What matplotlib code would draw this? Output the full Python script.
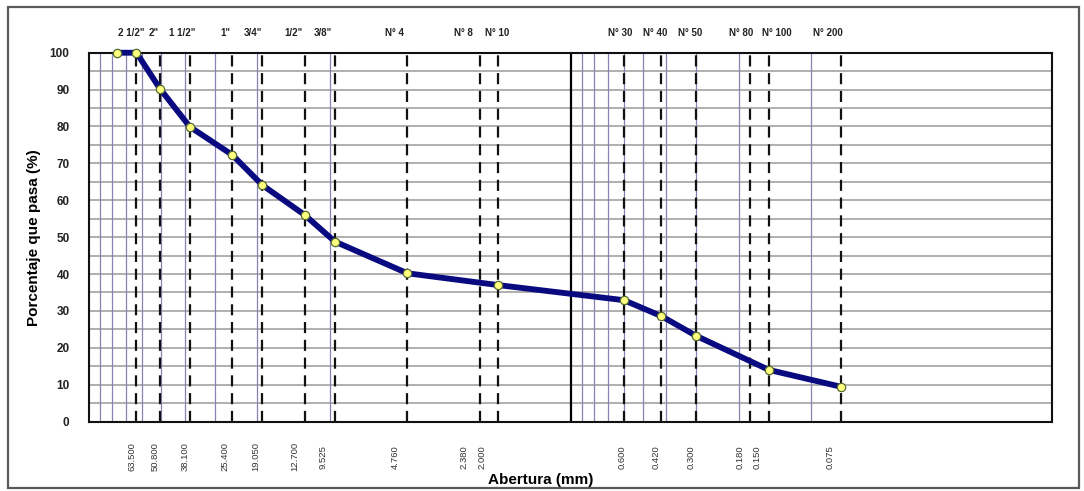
#!/usr/bin/env python3
"""Curva granulometrica: porcentaje que pasa vs abertura de tamiz (eje log invertido)."""
import matplotlib

matplotlib.use("Agg")
import matplotlib.pyplot as plt
from matplotlib import patches
from matplotlib.transforms import blended_transform_factory

plt.rcParams["font.family"] = ["Liberation Sans", "DejaVu Sans"]

# tamices (mm) y sus nombres
sieve_mm = [63.5, 50.8, 38.1, 25.4, 19.05, 12.7, 9.525, 4.76, 2.38, 2.0,
            0.6, 0.42, 0.3, 0.18, 0.15, 0.075]
sieve_names = ['2 1/2"', '2"', '1 1/2"', '1"', '3/4"', '1/2"', '3/8"', "N° 4",
               "N° 8", "N° 10", "N° 30", "N° 40", "N° 50", "N° 80", "N° 100", "N° 200"]
sieve_text = ["63.500", "50.800", "38.100", "25.400", "19.050", "12.700", "9.525",
              "4.760", "2.380", "2.000", "0.600", "0.420", "0.300", "0.180",
              "0.150", "0.075"]

# curva granulometrica
grad_mm = [76.2, 63.5, 50.8, 38.1, 25.4, 19.05, 12.7, 9.525, 4.76, 2.0,
           0.6, 0.42, 0.3, 0.15, 0.075]
grad_pass = [100, 100, 90.3, 79.9, 72.3, 64.1, 56.0, 48.8, 40.2, 37.0,
             32.9, 28.6, 23.2, 14.0, 9.4]

# lineas de la rejilla logaritmica
minor_mm = [90, 80, 70, 60, 50, 40, 30, 20, 10,
            0.9, 0.8, 0.7, 0.6, 0.5, 0.4, 0.3, 0.2, 0.1]
y_ticks = list(range(0, 101, 10))
y_grid = list(range(5, 100, 5))

# desplazamientos de etiquetas (pixeles)
top_dx = [-5, -6, -8, -7, -9, -11, -12, -13, -16, -1, -4, -6, -6, -9, 8, -13]
bot_dx = [-4, -5, -5, -7, -7, -10, -12, -12, -16, -16, -2, -5, -5, -10, -12, -11]


def main():
    fig = plt.figure(figsize=(10.84, 4.91), dpi=100)
    fig.patches.append(patches.Rectangle((0.007, 0.006), 0.988, 0.979, transform=fig.transFigure,
                                         fill=False, edgecolor="#5a5a5a", linewidth=1.6))
    ax = fig.add_axes([0.0821, 0.1415, 0.8884, 0.7511])
    ax.set_xscale("log")
    ax.set_xlim(100, 0.01)
    ax.set_ylim(0, 100)

    for y in y_grid:
        ax.axhline(y, color="#9a9a9a", linewidth=1.1, zorder=1)
    for x in minor_mm:
        ax.axvline(x, color="#8484b4", linewidth=0.9, zorder=1)
    ax.axvline(1.0, color="black", linewidth=1.6, zorder=2)
    for x in sieve_mm:
        ax.axvline(x, color="#111111", linewidth=1.6, linestyle=(0, (5, 3)), zorder=2)

    ax.plot(grad_mm, grad_pass, color="#0a0a80", linewidth=4.2, zorder=4,
            solid_capstyle="round", clip_on=False)
    ax.plot(grad_mm, grad_pass, linestyle="none", marker="o", markersize=6,
            markerfacecolor="#ffff80", markeredgecolor="#556b2f", markeredgewidth=0.9,
            zorder=5, clip_on=False)

    trans = blended_transform_factory(ax.transData, ax.transAxes)
    for x, name, dx in zip(sieve_mm, sieve_names, top_dx):
        ax.annotate(name, xy=(x, 1.053), xycoords=trans, xytext=(dx, 0), textcoords="offset pixels",
                    ha="center", va="center", fontsize=7, fontweight="bold", color="#222222")
    for x, txt, dx in zip(sieve_mm, sieve_text, bot_dx):
        ax.annotate(txt, xy=(x, -0.096), xycoords=trans, xytext=(dx, 0), textcoords="offset pixels",
                    ha="center", va="center", rotation=90, fontsize=6.8, color="#333333")

    ax.set_xticks([])
    ax.set_xticks([], minor=True)
    ax.set_yticks(y_ticks)
    ax.set_yticklabels([str(v) for v in y_ticks], fontsize=8.5, fontweight="bold", color="#222222")
    ax.tick_params(axis="y", length=0, pad=14)
    for side in ("left", "bottom", "right", "top"):
        ax.spines[side].set_color("#111111")
        ax.spines[side].set_linewidth(1.5)

    ax.set_ylabel("Porcentaje que pasa (%)", fontsize=11, fontweight="bold", labelpad=6)
    fig.text(0.499, 0.022, "Abertura (mm)", ha="center", va="center", fontsize=11, fontweight="bold")

    fig.savefig("out.png", dpi=100)
    plt.close(fig)


if __name__ == "__main__":
    main()
